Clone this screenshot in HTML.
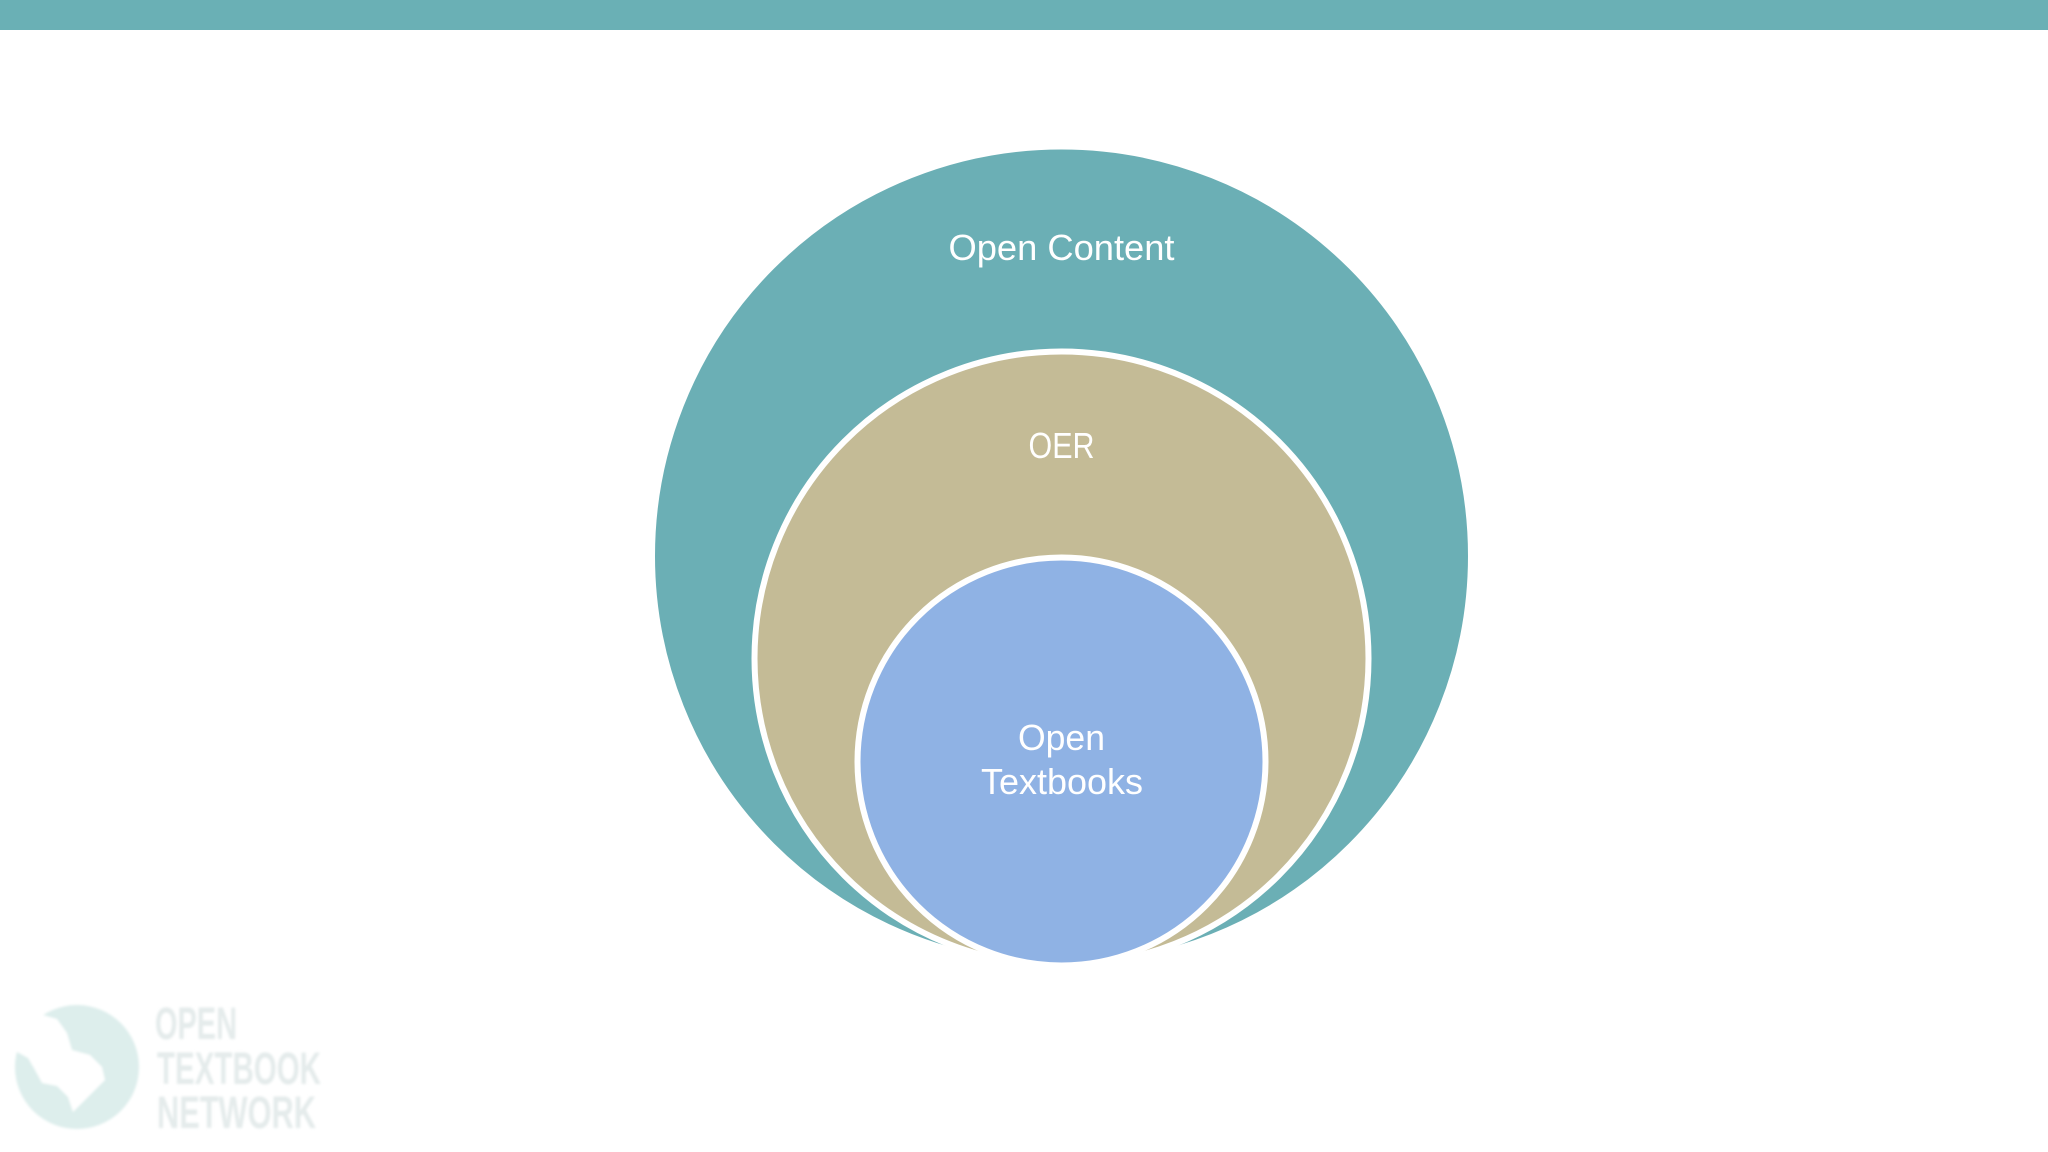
<!DOCTYPE html>
<html>
<head>
<meta charset="utf-8">
<style>
html,body{margin:0;padding:0;background:#fff;width:2048px;height:1152px;overflow:hidden}
svg{display:block}
text{font-family:"Liberation Sans",sans-serif;fill:#fff}
</style>
</head>
<body>
<svg width="2048" height="1152" viewBox="0 0 2048 1152" xmlns="http://www.w3.org/2000/svg">
<defs><filter id="b" x="-5%" y="-5%" width="110%" height="110%"><feGaussianBlur stdDeviation="1.3"/></filter></defs>
<rect x="0" y="0" width="2048" height="1152" fill="#fff"/>
<rect x="0" y="0" width="2048" height="30" fill="#6AB0B5"/>

<circle cx="1061.5" cy="556" r="409.5" fill="#6BAFB5" stroke="#fff" stroke-width="6"/>
<circle cx="1061.5" cy="658.5" r="307" fill="#C4BB96" stroke="#fff" stroke-width="6"/>
<circle cx="1061.5" cy="761.5" r="204" fill="#8FB2E4" stroke="#fff" stroke-width="6"/>

<text x="948.5" y="260" font-size="36" textLength="226" lengthAdjust="spacingAndGlyphs">Open Content</text>
<text x="1028.5" y="458" font-size="36" textLength="66" lengthAdjust="spacingAndGlyphs">OER</text>
<text x="1018" y="750" font-size="36" textLength="87" lengthAdjust="spacingAndGlyphs">Open</text>
<text x="981" y="794" font-size="36" textLength="162" lengthAdjust="spacingAndGlyphs">Textbooks</text>

<g filter="url(#b)">
<circle cx="77" cy="1067" r="62" fill="#DDEEEC"/>
<polygon points="43,1015 57,1019 67,1033 72,1050 90,1055 102,1067 105,1080 90,1095 73,1112 68,1097 57,1086 42,1083 35,1070 28,1058 17,1052 10,1030" fill="#fff"/>
<g style="font-weight:bold">
<text x="155" y="1039" font-size="45" textLength="82" lengthAdjust="spacingAndGlyphs" style="fill:#E4EBEB">OPEN</text>
<text x="157" y="1084" font-size="45" textLength="164" lengthAdjust="spacingAndGlyphs" style="fill:#E4EBEB">TEXTBOOK</text>
<text x="157" y="1128" font-size="45" textLength="159" lengthAdjust="spacingAndGlyphs" style="fill:#E4EBEB">NETWORK</text>
</g>
</g>
</svg>
</body>
</html>
